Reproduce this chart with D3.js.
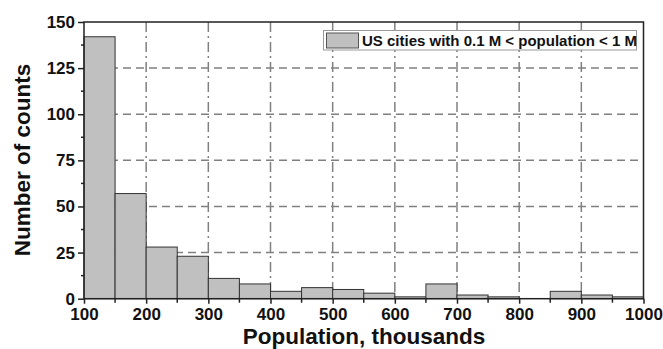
<!DOCTYPE html>
<meta charset="utf-8">
<style>
  body { margin: 0; background: #fff; }
  text { font-family: Arial, "Liberation Sans", sans-serif; font-weight: bold; fill: #111; }
  .bar { fill: #c0c0c0; stroke: #333; stroke-width: 1; }
  .hgrid { stroke: #808080; stroke-width: 1.5; stroke-dasharray: 8,5; }
  .vgrid { stroke: #808080; stroke-width: 1.5; stroke-dasharray: 10,4,2,4; }
</style>
<body>
<script src="https://cdn.jsdelivr.net/npm/d3@7"></script>
<script>
// histogram bins (thousands) and counts
var binStart = [100,150,200,250,300,350,400,450,500,550,600,650,700,750,800,850,900,950];
var counts   = [142,57,28,23,11,8,4,6,5,3,1,8,2,1,0,4,2,1];
var xTicks = [100,200,300,400,500,600,700,800,900,1000];
var yTicks = [0,25,50,75,100,125,150];
var binWidth = 50;

var W = 663, H = 349;
var margin = {top: 22, right: 20, bottom: 50, left: 84};

var svg = d3.select("body").append("svg").attr("width", W).attr("height", H);

var x = d3.scaleLinear().domain([100, 1000]).range([margin.left, 643.5]);
var y = d3.scaleLinear().domain([0, 150]).range([298.7, margin.top]);

// grid
svg.selectAll(".hgrid").data(yTicks.filter(d => d > 0 && d < 150)).enter().append("line")
  .attr("class", "hgrid")
  .attr("x1", x(100)).attr("x2", x(1000))
  .attr("y1", d => y(d)).attr("y2", d => y(d));

svg.selectAll(".vgrid").data(xTicks.filter(d => d > 100 && d < 1000)).enter().append("line")
  .attr("class", "vgrid")
  .attr("x1", d => x(d)).attr("x2", d => x(d))
  .attr("y1", y(150)).attr("y2", y(0));

// bars
svg.selectAll(".bar").data(binStart).enter().append("rect")
  .attr("class", "bar")
  .attr("x", d => x(d))
  .attr("width", d => x(d + binWidth) - x(d))
  .attr("y", (d, i) => y(counts[i]))
  .attr("height", (d, i) => y(0) - y(counts[i]));

// frame
svg.append("rect")
  .attr("x", x(100)).attr("y", y(150))
  .attr("width", x(1000) - x(100)).attr("height", y(0) - y(150))
  .attr("fill", "none").attr("stroke", "#222").attr("stroke-width", 1.5);

// axes
var xAxis = d3.axisBottom(x).tickValues(xTicks).tickSize(5).tickPadding(4).tickFormat(d3.format("d"));
var gx = svg.append("g").attr("transform", "translate(0," + y(0) + ")").call(xAxis);
gx.select(".domain").remove();
gx.selectAll("text").style("font-size", "17px").style("font-family", "Arial, sans-serif").style("font-weight", "bold").attr("fill", "#111");
gx.selectAll("line").attr("stroke", "#222").attr("stroke-width", 1.5);
gx.selectAll(".minor").data(d3.range(150, 1000, 100)).enter().append("line")
  .attr("class", "minor").attr("x1", d => x(d)).attr("x2", d => x(d))
  .attr("y1", 0).attr("y2", 4).attr("stroke", "#222").attr("stroke-width", 1.5);

var yAxis = d3.axisLeft(y).tickValues(yTicks).tickSize(6).tickPadding(3);
var gy = svg.append("g").attr("transform", "translate(" + x(100) + ",0)").call(yAxis);
gy.select(".domain").remove();
gy.selectAll("text").style("font-size", "17px").style("font-family", "Arial, sans-serif").style("font-weight", "bold").attr("fill", "#111");
gy.selectAll("line").attr("stroke", "#222").attr("stroke-width", 1.5);
gy.selectAll(".minor").data(d3.range(12.5, 150, 25)).enter().append("line")
  .attr("class", "minor").attr("x1", -3).attr("x2", 0)
  .attr("y1", d => y(d)).attr("y2", d => y(d)).attr("stroke", "#222").attr("stroke-width", 1.5);

// axis titles
svg.append("text")
  .attr("x", 364).attr("y", 344)
  .attr("text-anchor", "middle").style("font-size", "22.5px")
  .text("Population, thousands");

svg.append("text")
  .attr("transform", "translate(30,160) rotate(-90)")
  .attr("text-anchor", "middle").style("font-size", "22.5px")
  .text("Number of counts");

// legend
var lg = svg.append("g");
lg.append("rect").attr("x", 323.5).attr("y", 30.5).attr("width", 313).attr("height", 19.5)
  .attr("fill", "#fff").attr("stroke", "#999").attr("stroke-width", 1);
lg.append("rect").attr("x", 326.5).attr("y", 33).attr("width", 32).attr("height", 15)
  .attr("fill", "#c0c0c0").attr("stroke", "#555");
lg.append("text").attr("x", 362).attr("y", 46).style("font-size", "15px")
  .text("US cities with 0.1 M < population < 1 M");
</script>
</body>
